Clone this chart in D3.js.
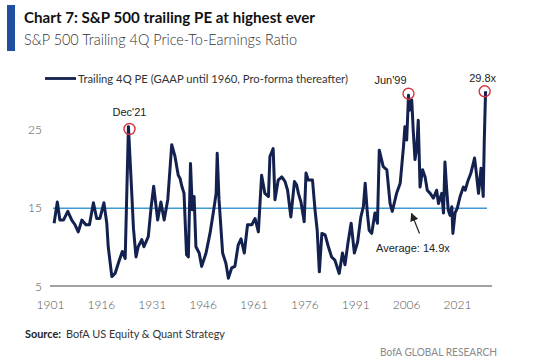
<!DOCTYPE html>
<html>
<head>
<meta charset="utf-8">
<script src="https://cdn.jsdelivr.net/npm/d3@7"></script>
<style>
  html, body { margin: 0; padding: 0; background: #fff; }
  svg { display: block; }
</style>
</head>
<body>
<div id="chart"></div>
<script>
// Data (year, trailing 4Q PE)
const years = [
  1901.3, 1902.2, 1902.9, 1903.9, 1905.1, 1906.2, 1907.1, 1908.0, 1909.0, 1910.1,
  1911.1, 1912.2, 1913.1, 1914.0, 1915.1, 1915.9, 1916.3, 1917.3, 1918.2, 1919.1,
  1920.2, 1921.0, 1921.9, 1922.6, 1923.3, 1924.0, 1924.6, 1925.6, 1926.2, 1927.4,
  1928.2, 1928.9, 1930.0, 1930.9, 1931.8, 1932.8, 1933.9, 1934.8, 1935.7, 1936.2,
  1936.7, 1937.3, 1938.0, 1938.5, 1939.1, 1939.6, 1940.1, 1940.6, 1941.5, 1942.2,
  1943.4, 1944.5, 1945.4, 1946.2, 1946.5, 1947.0, 1948.0, 1948.9, 1949.6, 1950.5,
  1951.4, 1952.3, 1953.1, 1954.0, 1954.9, 1956.1, 1957.0, 1957.9, 1958.8, 1959.7,
  1960.7, 1961.1, 1962.0, 1962.5, 1963.4, 1964.4, 1965.3, 1966.0, 1966.9, 1967.9,
  1968.5, 1969.0, 1969.7, 1970.6, 1971.1, 1971.7, 1972.9, 1973.6, 1974.2, 1974.8,
  1975.5, 1976.4, 1977.3, 1978.2, 1979.1, 1980.3, 1981.2, 1981.9, 1982.7, 1983.6,
  1984.5, 1985.4, 1986.3, 1987.0, 1987.5, 1988.1, 1988.6, 1989.3, 1990.2, 1990.9,
  1991.4, 1992.5, 1993.5, 1994.4, 1995.0, 1996.2, 1997.2, 1998.1, 1998.5, 1999.0,
  1999.5, 1999.8, 2000.4, 2000.8, 2001.3, 2001.8, 2002.2, 2002.7, 2003.4, 2004.1,
  2004.7, 2005.5, 2006.4, 2007.3, 2007.8, 2008.7, 2009.2, 2009.6, 2010.1, 2010.5,
  2011.0, 2011.5, 2011.8, 2012.4, 2013.0, 2013.8, 2014.7, 2015.2, 2015.9, 2016.8,
  2017.8, 2018.2, 2018.9, 2019.6, 2020.2, 2020.5, 2020.85
];
const pe = [
  13.0, 15.7, 13.4, 13.4, 14.5, 13.4, 12.8, 11.9, 13.4, 12.8,
  12.8, 15.6, 13.6, 13.6, 15.6, 13.0, 10.0, 6.2, 6.6, 7.9,
  9.4, 8.5, 25.3, 18.9, 12.3, 8.7, 10.0, 10.9, 10.0, 11.3,
  15.1, 17.7, 13.4, 15.7, 13.4, 16.0, 23.0, 21.5, 19.1, 18.7,
  17.7, 16.8, 9.0, 8.7, 20.6, 14.7, 16.4, 10.0, 9.2, 7.5,
  9.2, 11.7, 14.3, 16.8, 21.9, 16.0, 9.2, 7.9, 6.0, 7.3,
  7.5, 10.2, 11.0, 9.2, 12.8, 12.8, 13.6, 11.9, 19.1, 16.8,
  16.4, 21.5, 22.5, 16.0, 18.5, 18.9, 18.3, 17.2, 13.8, 18.3,
  17.9, 16.8, 15.7, 13.2, 19.4, 18.5, 18.5, 14.7, 12.1, 6.8,
  11.7, 11.5, 10.0, 8.7, 8.3, 6.6, 9.2, 7.7, 10.4, 13.0,
  9.2, 10.6, 13.8, 15.1, 18.1, 14.3, 12.1, 11.7, 14.3, 13.0,
  22.3, 20.2, 19.8, 15.5, 14.5, 16.8, 18.1, 22.7, 25.3, 23.6,
  29.3, 27.4, 28.7, 24.9, 21.1, 22.7, 26.1, 17.6, 19.8, 18.9,
  17.2, 16.8, 16.2, 17.2, 15.5, 16.8, 14.3, 20.8, 17.2, 14.7,
  14.0, 15.1, 11.7, 14.3, 14.9, 16.4, 17.6, 17.2, 18.3, 19.4,
  21.3, 19.8, 16.8, 20.0, 16.4, 23.6, 29.8
];
const average = 14.9;

const xTickLabels = ['1901', '1916', '1931', '1946', '1961', '1976', '1991', '2006', '2021'];
const yTicks = [5, 15, 25];

// Highlighted peaks
const peakYears = [1922.2, 1999.5, 2020.6];
const peakValues = [25.0, 29.5, 29.8];
const peakLabels = ["Dec'21", "Jun'99", "29.8x"];

const width = 555, height = 364;
const navy = '#13214f';
const sans = 'Lato, "Open Sans", sans-serif';
const arial = '"Liberation Sans", Arial, sans-serif';

const svg = d3.select('#chart').append('svg')
  .attr('width', width)
  .attr('height', height)
  .style('font-family', sans);

// Scales
const x = d3.scaleLinear().domain([1901, 2021.25]).range([53, 487]);
const y = d3.scaleLinear().domain([5, 25]).range([286, 129]);
// tick labels sit on their own category positions
const xLabel = d3.scalePoint().domain(xTickLabels).range([50, 457]);

// Title block
svg.append('rect')
  .attr('x', 7).attr('y', 5).attr('width', 8).attr('height', 46)
  .attr('fill', '#1f4f9e');
svg.append('text')
  .attr('x', 24).attr('y', 23)
  .attr('font-size', 16).attr('font-weight', 'bold').attr('fill', '#111')
  .attr('textLength', 291).attr('lengthAdjust', 'spacingAndGlyphs')
  .text('Chart 7: S&P 500 trailing PE at highest ever');
svg.append('text')
  .attr('x', 24).attr('y', 45)
  .attr('font-size', 15).attr('font-weight', 300).attr('fill', '#333')
  .attr('textLength', 273).attr('lengthAdjust', 'spacingAndGlyphs')
  .text('S&P 500 Trailing 4Q Price-To-Earnings Ratio');

// Legend
svg.append('line')
  .attr('x1', 45).attr('x2', 76).attr('y1', 78.5).attr('y2', 78.5)
  .attr('stroke', navy).attr('stroke-width', 2.8);
svg.append('text')
  .attr('x', 78).attr('y', 82.5)
  .attr('font-size', 12).attr('fill', '#333')
  .attr('textLength', 270).attr('lengthAdjust', 'spacingAndGlyphs')
  .text('Trailing 4Q PE (GAAP until 1960, Pro-forma thereafter)');

// Y axis labels
svg.append('g')
  .selectAll('text')
  .data(yTicks)
  .enter()
  .append('text')
  .attr('x', 42)
  .attr('y', d => y(d) + 4.5)
  .attr('text-anchor', 'end')
  .attr('font-size', 12)
  .attr('font-weight', 300)
  .attr('fill', '#555')
  .text(d => d);

// X axis
const xAxis = svg.append('g')
  .attr('transform', `translate(0, ${y(5)})`)
  .call(d3.axisBottom(xLabel).tickSize(0).tickPadding(14));
xAxis.select('.domain').remove();
xAxis.selectAll('text')
  .attr('font-family', sans)
  .attr('font-size', 12)
  .attr('font-weight', 300)
  .attr('fill', '#555');
svg.append('line')
  .attr('x1', 50).attr('x2', 492)
  .attr('y1', y(5)).attr('y2', y(5))
  .attr('stroke', '#444').attr('stroke-width', 1);

// Average line
svg.append('line')
  .attr('x1', x(1901)).attr('x2', x(2021.25))
  .attr('y1', y(average)).attr('y2', y(average))
  .attr('stroke', '#3e9bd4').attr('stroke-width', 1.5);

// PE line
const line = d3.line()
  .x(d => x(d[0]))
  .y(d => y(d[1]));
svg.append('path')
  .datum(d3.zip(years, pe))
  .attr('d', line)
  .attr('fill', 'none')
  .attr('stroke', navy)
  .attr('stroke-width', 3)
  .attr('stroke-linejoin', 'round');

// Peak circles and labels
const peaks = d3.zip(peakYears, peakValues, peakLabels);
svg.append('g')
  .selectAll('circle')
  .data(peaks)
  .enter()
  .append('circle')
  .attr('cx', d => x(d[0]))
  .attr('cy', d => y(d[1]))
  .attr('r', 5.5)
  .attr('fill', 'none')
  .attr('stroke', '#d6323c')
  .attr('stroke-width', 1.4);

const labelDx = [0, -18, -2];
const labelDy = [-13, -10, -9];
svg.append('g')
  .selectAll('text')
  .data(peaks)
  .enter()
  .append('text')
  .attr('x', (d, i) => x(d[0]) + labelDx[i])
  .attr('y', (d, i) => y(d[1]) + labelDy[i])
  .attr('text-anchor', 'middle')
  .attr('font-family', arial)
  .attr('font-size', 11)
  .attr('fill', '#222')
  .text(d => d[2]);

// Average annotation with arrow
const defs = svg.append('defs');
defs.append('marker')
  .attr('id', 'arrow')
  .attr('viewBox', '0 0 10 10')
  .attr('refX', 9).attr('refY', 5)
  .attr('markerWidth', 7).attr('markerHeight', 7)
  .attr('orient', 'auto')
  .append('path')
  .attr('d', 'M0,0 L10,5 L0,10 Z')
  .attr('fill', '#222');
svg.append('line')
  .attr('x1', 419.5).attr('y1', 233.5)
  .attr('x2', 411.5).attr('y2', 213.5)
  .attr('stroke', '#222').attr('stroke-width', 1.2)
  .attr('marker-end', 'url(#arrow)');
svg.append('text')
  .attr('x', 376).attr('y', 252)
  .attr('font-family', arial)
  .attr('font-size', 11)
  .attr('fill', '#222')
  .text('Average: ' + average + 'x');

// Footer
svg.append('text')
  .attr('x', 25).attr('y', 338)
  .attr('font-size', 12).attr('font-weight', 'bold').attr('fill', '#222')
  .attr('textLength', 36).attr('lengthAdjust', 'spacingAndGlyphs')
  .text('Source:');
svg.append('text')
  .attr('x', 66).attr('y', 338)
  .attr('font-size', 12).attr('fill', '#333')
  .attr('textLength', 159).attr('lengthAdjust', 'spacingAndGlyphs')
  .text('BofA US Equity & Quant Strategy');

svg.append('text')
  .attr('x', 497).attr('y', 356)
  .attr('text-anchor', 'end')
  .attr('font-size', 12).attr('fill', '#8a8a8a')
  .attr('textLength', 117).attr('lengthAdjust', 'spacingAndGlyphs')
  .text('BofA GLOBAL RESEARCH');
</script>
</body>
</html>
